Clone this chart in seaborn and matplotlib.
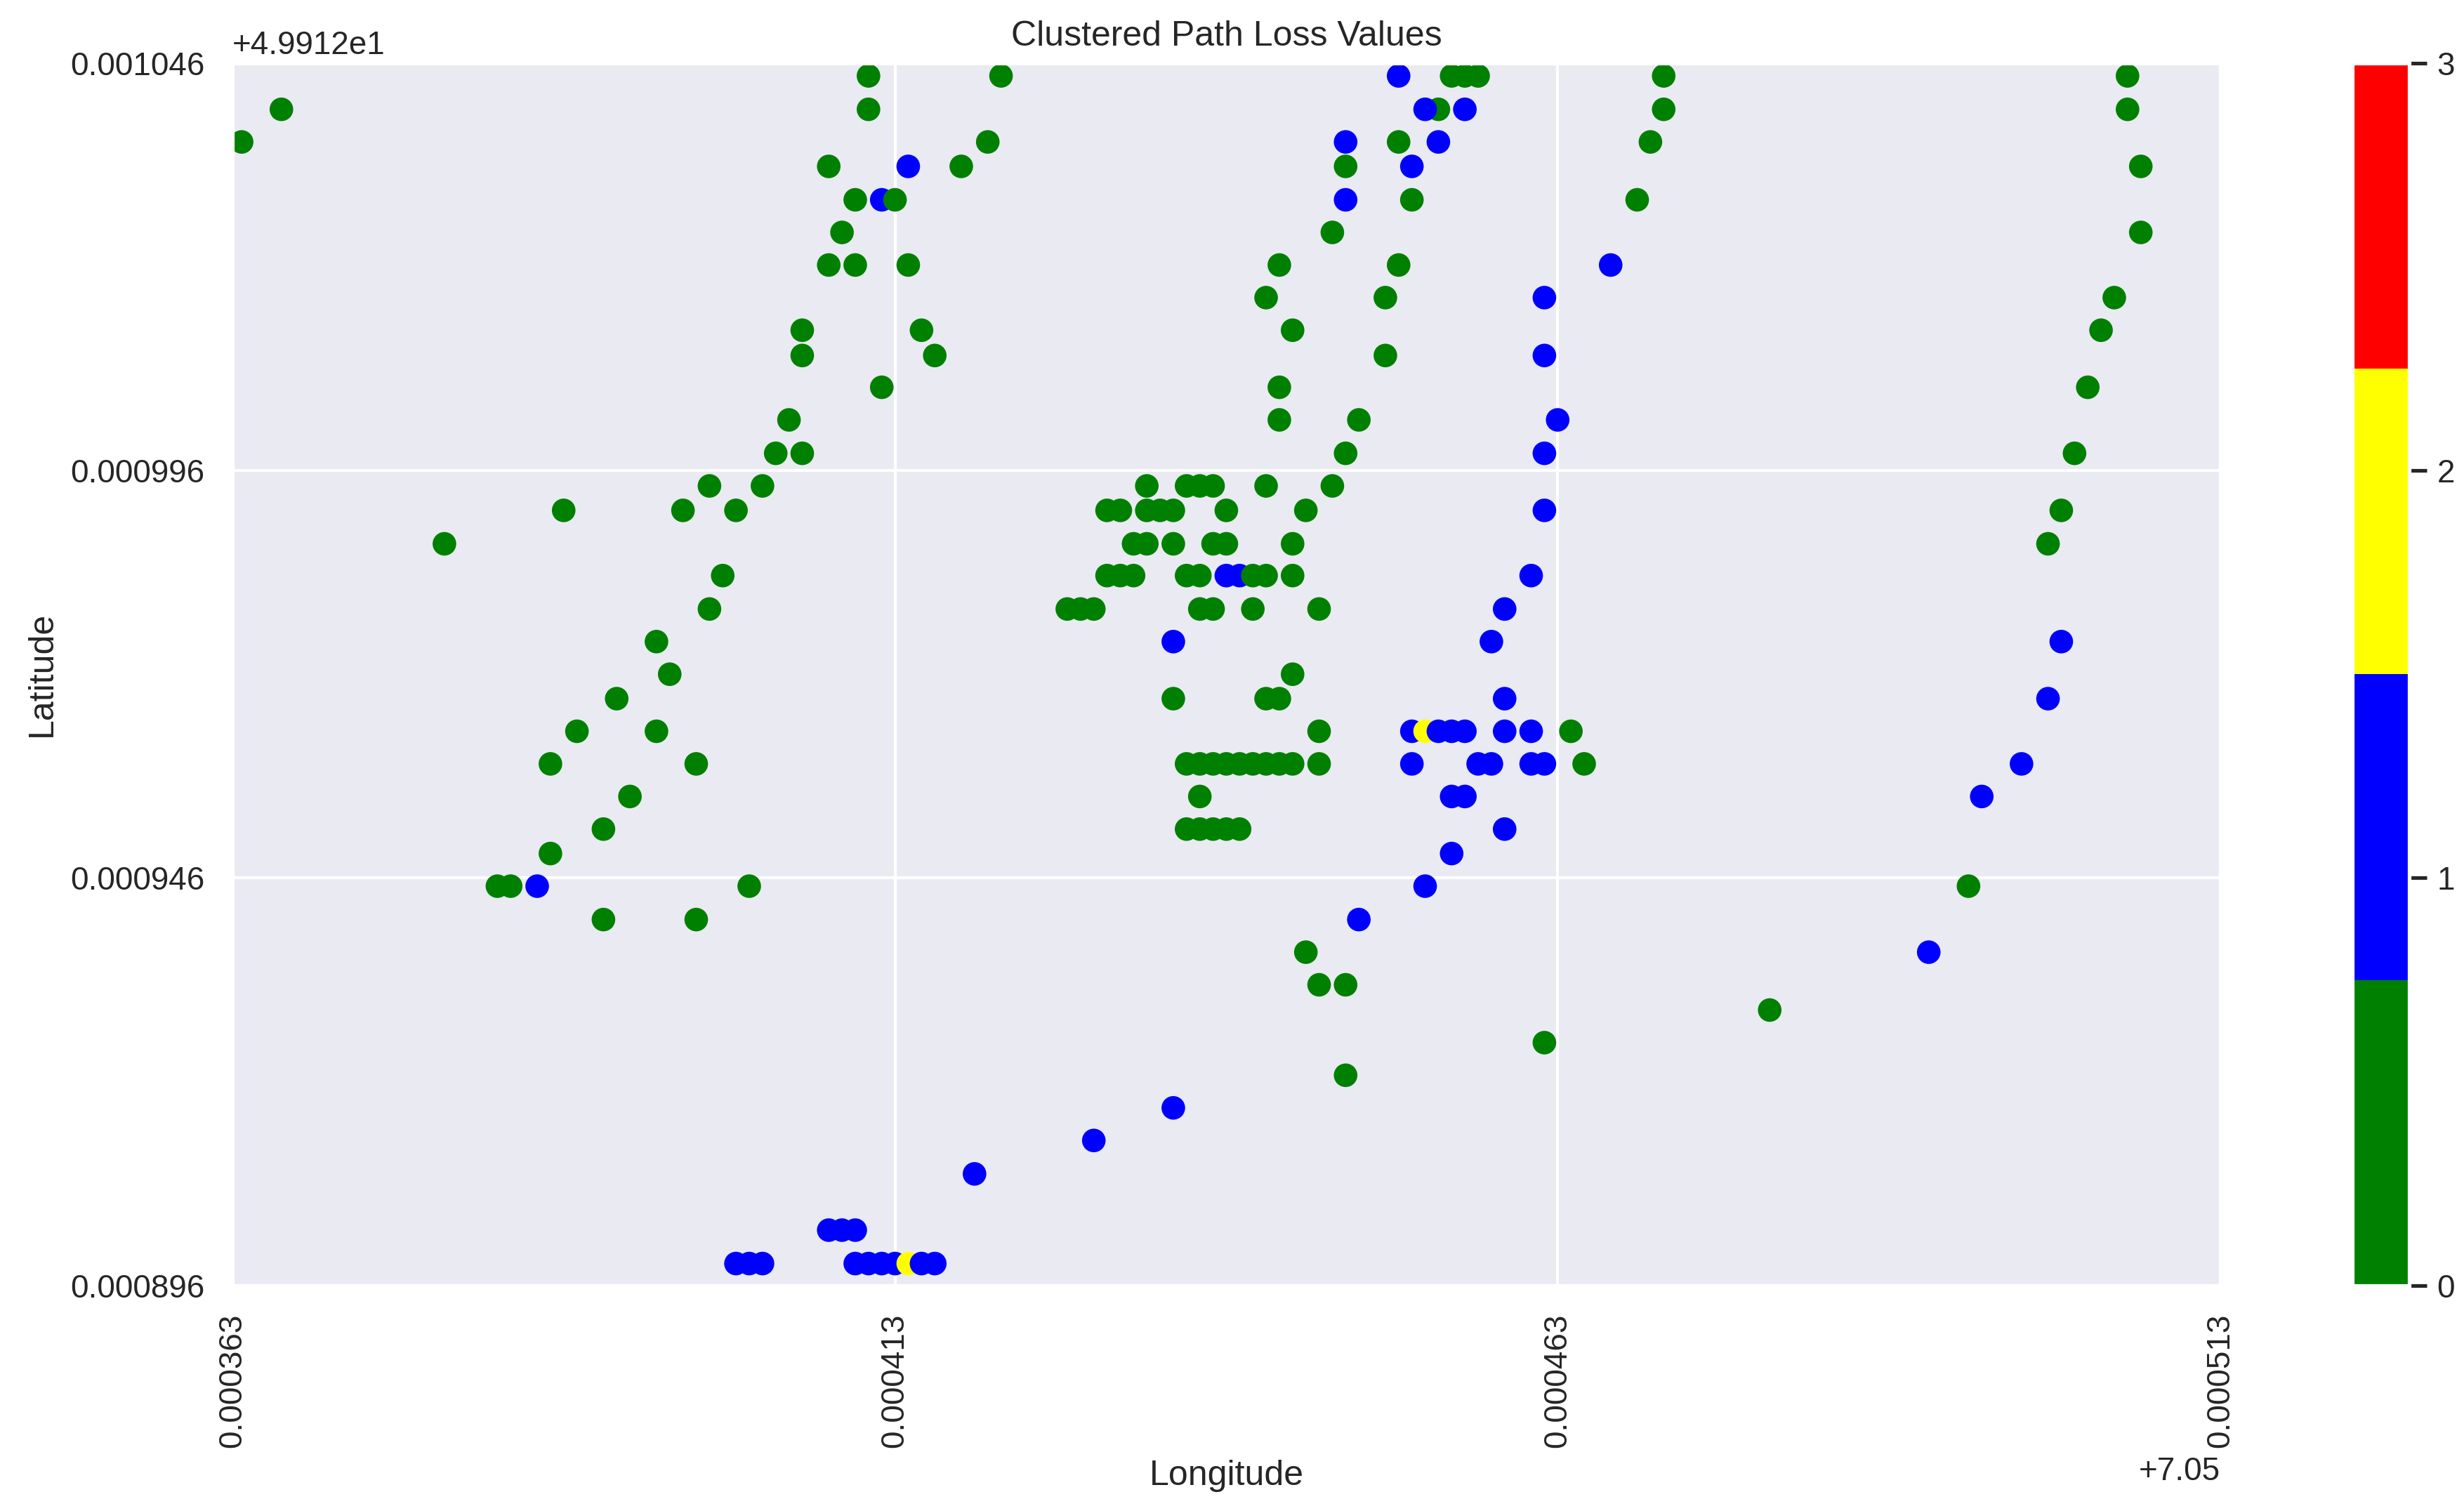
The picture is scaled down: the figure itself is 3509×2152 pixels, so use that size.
import matplotlib
matplotlib.use("Agg")
import matplotlib.pyplot as plt
import pandas as pd
import seaborn as sns
from matplotlib.cm import ScalarMappable
from matplotlib.colors import ListedColormap, Normalize
from matplotlib.ticker import ScalarFormatter

# ---- data ----
# west arm
west_lon = [
    7.050411, 7.050421,
    7.0503667, 7.050411,
    7.0503637, 7.050420,
    7.050408, 7.050414, 7.050418,
    7.050410, 7.050412, 7.050413,
    7.050409,
    7.050408, 7.050410, 7.050414,
    7.050406, 7.050415,
    7.050406, 7.050416,
    7.050412,
    7.050405,
    7.050404, 7.050406,
    7.050399, 7.050403,
    7.050388, 7.050397, 7.050401,
    7.050379,
    7.050400,
    7.050399,
    7.050395,
    7.050396,
    7.050392,
    7.050389, 7.050395,
    7.050387, 7.050398,
    7.050393,
    7.050391,
    7.050387,
    7.050383, 7.050384, 7.050386, 7.050402,
    7.050391, 7.050398,
]
west_lat = [
    49.9130444, 49.9130444,
    49.9130403, 49.9130403,
    49.9130363, 49.9130363,
    49.9130333, 49.9130333, 49.9130333,
    49.9130292, 49.9130292, 49.9130292,
    49.9130252,
    49.9130212, 49.9130212, 49.9130212,
    49.9130132, 49.9130132,
    49.9130101, 49.9130101,
    49.9130062,
    49.9130022,
    49.9129981, 49.9129981,
    49.9129941, 49.9129941,
    49.9129911, 49.9129911, 49.9129911,
    49.9129870,
    49.9129831,
    49.9129790,
    49.9129750,
    49.9129710,
    49.9129680,
    49.9129640, 49.9129640,
    49.9129600, 49.9129600,
    49.9129560,
    49.9129520,
    49.9129490,
    49.9129450, 49.9129450, 49.9129450, 49.9129450,
    49.9129409, 49.9129409,
]
west_cluster = [
    0, 0,
    0, 0,
    0, 0,
    0, 1, 0,
    0, 1, 0,
    0,
    0, 0, 0,
    0, 0,
    0, 0,
    0,
    0,
    0, 0,
    0, 0,
    0, 0, 0,
    0,
    0,
    0,
    0,
    0,
    0,
    0, 0,
    0, 0,
    0,
    0,
    0,
    0, 0, 1, 0,
    0, 0,
]

# centre block
centre_lon = [
    7.050451, 7.050455, 7.050456, 7.050457, 7.050471,
    7.050454, 7.050453, 7.050456, 7.050471,
    7.050447, 7.050451, 7.050454, 7.050470,
    7.050447, 7.050452,
    7.050447, 7.050452, 7.050469,
    7.050446,
    7.050442, 7.050451, 7.050467,
    7.050441, 7.050450, 7.050462,
    7.050443,
    7.050450, 7.050462,
    7.050442,
    7.050442, 7.050448, 7.050463,
    7.050447, 7.050462,
    7.050432, 7.050435, 7.050436, 7.050437, 7.050441, 7.050446,
    7.050429, 7.050430, 7.050432, 7.050433, 7.050434, 7.050438, 7.050444, 7.050462,
    7.050431, 7.050432, 7.050434, 7.050437, 7.050438, 7.050443,
    7.050429, 7.050430, 7.050431, 7.050435, 7.050436, 7.050438, 7.050439,
    7.050440, 7.050441, 7.050443, 7.050461,
    7.050426, 7.050427, 7.050428, 7.050436, 7.050437, 7.050440, 7.050445, 7.050459,
    7.050434, 7.050458,
    7.050443,
    7.050434, 7.050441, 7.050442, 7.050459,
    7.050445, 7.050452, 7.050453, 7.050454, 7.050455, 7.050456, 7.050459, 7.050461,
    7.050464,
    7.050435, 7.050436, 7.050437, 7.050438, 7.050439, 7.050440, 7.050441, 7.050442,
    7.050443, 7.050445, 7.050452, 7.050457, 7.050458, 7.050461, 7.050462, 7.050465,
    7.050436, 7.050455, 7.050456,
    7.050435, 7.050436, 7.050437, 7.050438, 7.050439, 7.050459,
    7.050455,
    7.050453,
    7.050448,
    7.050444,
    7.050445, 7.050447,
    7.050462,
    7.050447,
]
centre_lat = [
    49.9130444, 49.9130444, 49.9130444, 49.9130444, 49.9130444,
    49.9130403, 49.9130403, 49.9130403, 49.9130403,
    49.9130363, 49.9130363, 49.9130363, 49.9130363,
    49.9130333, 49.9130333,
    49.9130292, 49.9130292, 49.9130292,
    49.9130252,
    49.9130212, 49.9130212, 49.9130212,
    49.9130172, 49.9130172, 49.9130172,
    49.9130132,
    49.9130101, 49.9130101,
    49.9130062,
    49.9130022, 49.9130022, 49.9130022,
    49.9129981, 49.9129981,
    49.9129941, 49.9129941, 49.9129941, 49.9129941, 49.9129941, 49.9129941,
    49.9129911, 49.9129911, 49.9129911, 49.9129911, 49.9129911, 49.9129911, 49.9129911, 49.9129911,
    49.9129870, 49.9129870, 49.9129870, 49.9129870, 49.9129870, 49.9129870,
    49.9129831, 49.9129831, 49.9129831, 49.9129831, 49.9129831, 49.9129831, 49.9129831,
    49.9129831, 49.9129831, 49.9129831, 49.9129831,
    49.9129790, 49.9129790, 49.9129790, 49.9129790, 49.9129790, 49.9129790, 49.9129790, 49.9129790,
    49.9129750, 49.9129750,
    49.9129710,
    49.9129680, 49.9129680, 49.9129680, 49.9129680,
    49.9129640, 49.9129640, 49.9129640, 49.9129640, 49.9129640, 49.9129640, 49.9129640, 49.9129640,
    49.9129640,
    49.9129600, 49.9129600, 49.9129600, 49.9129600, 49.9129600, 49.9129600, 49.9129600, 49.9129600,
    49.9129600, 49.9129600, 49.9129600, 49.9129600, 49.9129600, 49.9129600, 49.9129600, 49.9129600,
    49.9129560, 49.9129560, 49.9129560,
    49.9129520, 49.9129520, 49.9129520, 49.9129520, 49.9129520, 49.9129520,
    49.9129490,
    49.9129450,
    49.9129409,
    49.9129369,
    49.9129329, 49.9129329,
    49.9129258,
    49.9129218,
]
centre_cluster = [
    1, 0, 0, 0, 0,
    0, 1, 1, 0,
    1, 0, 1, 0,
    0, 1,
    1, 0, 0,
    0,
    0, 0, 1,
    0, 0, 1,
    0,
    0, 1,
    0,
    0, 0, 1,
    0, 1,
    0, 0, 0, 0, 0, 0,
    0, 0, 0, 0, 0, 0, 0, 1,
    0, 0, 0, 0, 0, 0,
    0, 0, 0, 0, 0, 1, 1,
    0, 0, 0, 1,
    0, 0, 0, 0, 0, 0, 0, 1,
    1, 1,
    0,
    0, 0, 0, 1,
    0, 1, 2, 1, 1, 1, 1, 1,
    0,
    0, 0, 0, 0, 0, 0, 0, 0,
    0, 0, 1, 1, 1, 1, 1, 0,
    0, 1, 1,
    0, 0, 0, 0, 0, 1,
    1,
    1,
    1,
    0,
    0, 0,
    0,
    0,
]

# east arm
east_lon = [
    7.050506, 7.050506, 7.050507, 7.050507, 7.050505, 7.050504,
    7.050503, 7.050502, 7.050501, 7.050500, 7.050501, 7.050500,
    7.050498, 7.050495, 7.050494, 7.050491, 7.050479,
]
east_lat = [
    49.9130444, 49.9130403, 49.9130333, 49.9130252, 49.9130172, 49.9130132,
    49.9130062, 49.9129981, 49.9129911, 49.9129870, 49.9129750, 49.9129680,
    49.9129600, 49.9129560, 49.9129450, 49.9129369, 49.9129298,
]
east_cluster = [0, 0, 0, 0, 0, 0, 0, 0, 0, 0, 1, 1, 1, 1, 0, 1, 0]

# south arm
south_lon = [
    7.050419, 7.050428, 7.050434,
    7.050408, 7.050409, 7.050410,
    7.050401, 7.050402, 7.050403, 7.050410, 7.050411,
    7.050412, 7.050413, 7.050414, 7.050415, 7.050416,
]
south_lat = [
    49.9129097, 49.9129138, 49.9129178,
    49.9129028, 49.9129028, 49.9129028,
    49.9128987, 49.9128987, 49.9128987, 49.9128987, 49.9128987,
    49.9128987, 49.9128987, 49.9128987, 49.9128987, 49.9128987,
]
south_cluster = [1, 1, 1, 1, 1, 1, 1, 1, 1, 1, 1, 1, 1, 2, 1, 1]

x_ticks = [7.050363, 7.050413, 7.050463, 7.050513]
y_ticks = [49.912896, 49.912946, 49.912996, 49.913046]
cbar_ticks = [0, 1, 2, 3]
cluster_colors = ["green", "blue", "yellow", "red"]

df = pd.DataFrame({
    "lon": west_lon + centre_lon + east_lon + south_lon,
    "lat": west_lat + centre_lat + east_lat + south_lat,
    "cluster": west_cluster + centre_cluster + east_cluster + south_cluster,
})

sns.set_theme(style="darkgrid")
plt.rcParams["font.family"] = ["Liberation Sans", "DejaVu Sans"]

cmap = ListedColormap(cluster_colors)
norm = Normalize(vmin=0, vmax=3)

fig = plt.figure(figsize=(3509 / 300, 2152 / 300), dpi=300)
ax = fig.add_axes([0.0943, 0.1492, 0.8068, 0.8092])
cax = fig.add_axes([0.9547, 0.1492, 0.0231, 0.8092])

sns.scatterplot(data=df, x="lon", y="lat", hue="cluster", palette=cmap,
                hue_norm=(0, 3), s=65, linewidth=0, legend=False, ax=ax)

ax.set_xlim(x_ticks[0], x_ticks[-1])
ax.set_ylim(y_ticks[0], y_ticks[-1])
ax.set_xticks(x_ticks)
ax.set_yticks(y_ticks)
ax.xaxis.set_major_formatter(ScalarFormatter(useOffset=7.05))
ax.yaxis.set_major_formatter(ScalarFormatter(useOffset=49.912))
ax.tick_params(axis="x", labelrotation=90)
ax.set_title("Clustered Path Loss Values")
ax.set_xlabel("Longitude")
ax.set_ylabel("Latitude")

cb = fig.colorbar(ScalarMappable(norm=norm, cmap=cmap), cax=cax)
cb.set_ticks(cbar_ticks)

fig.savefig("out.png", dpi=300)
